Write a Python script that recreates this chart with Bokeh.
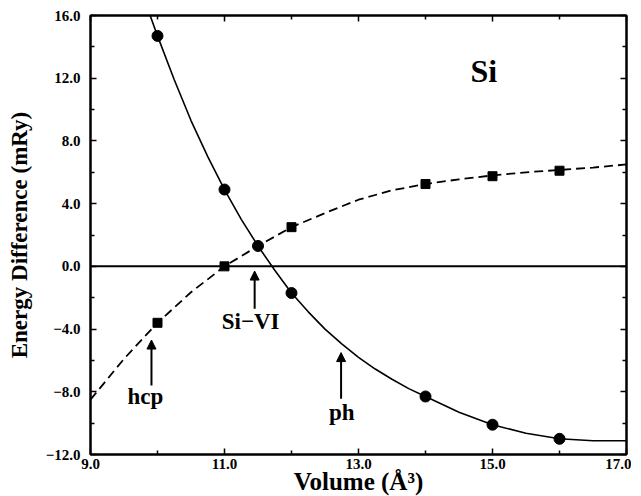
from bokeh.plotting import figure
from bokeh.models import FixedTicker, LinearAxis, Range1d, Span, Arrow, NormalHead, Label
from bokeh.embed import file_html
from bokeh.resources import INLINE

# ---- data ----
ph_volume = [10.0, 11.0, 11.5, 12.0, 14.0, 15.0, 16.0]
ph_energy = [14.7, 4.9, 1.3, -1.7, -8.3, -10.1, -11.0]
hcp_volume = [10.0, 11.0, 12.0, 14.0, 15.0, 16.0]
hcp_energy = [-3.6, 0.0, 2.5, 5.25, 5.75, 6.1]

ph_fit_volume = [9.89, 10.0, 10.25, 10.5, 10.75, 11.0, 11.25, 11.5, 11.75, 12.0,
                 12.25, 12.5, 12.75, 13.0, 13.25, 13.5, 13.75, 14.0, 14.5, 15.0,
                 15.5, 16.0, 16.5, 17.0]
ph_fit_energy = [16.0, 14.7, 11.9, 9.3, 7.0, 4.9, 3.0, 1.3, -0.25, -1.7,
                 -2.9, -4.0, -4.95, -5.8, -6.55, -7.2, -7.8, -8.3, -9.3, -10.1,
                 -10.65, -11.0, -11.12, -11.12]
hcp_fit_volume = [9.0, 9.5, 10.0, 10.5, 11.0, 11.5, 12.0, 12.5, 13.0, 13.5,
                  14.0, 14.5, 15.0, 15.5, 16.0, 16.5, 17.0]
hcp_fit_energy = [-8.5, -5.9, -3.6, -1.65, 0.0, 1.3, 2.5, 3.4, 4.25, 4.85,
                  5.25, 5.55, 5.8, 6.0, 6.15, 6.3, 6.5]

x_ticks = [9, 11, 13, 15, 17]
x_tick_labels = ["9.0", "11.0", "13.0", "15.0", "17.0"]
x_minor_ticks = [10, 12, 14, 16]
y_ticks = [-12, -8, -4, 0, 4, 8, 12, 16]
y_tick_labels = ["\u221212.0", "\u22128.0", "\u22124.0", "0.0", "4.0", "8.0", "12.0", "16.0"]
y_minor_ticks = [-10, -6, -2, 2, 6, 10, 14]

label_texts = ["hcp", "Si\u2212VI", "ph"]
label_x = [9.82, 11.39, 12.75]
label_y = [-8.3, -3.5, -9.33]
arrow_x = [9.91, 11.45, 12.74]
arrow_y_start = [-7.6, -2.7, -8.44]
arrow_y_end = [-4.7, -0.3, -5.5]

FONT = "Liberation Serif"

p = figure(frame_width=536, frame_height=439,
           x_range=Range1d(9, 17), y_range=Range1d(-12, 16),
           output_backend="svg", toolbar_location=None,
           min_border_left=90, min_border_top=15, min_border_right=5, min_border_bottom=0)
p.grid.visible = False
p.outline_line_color = "black"
p.outline_line_width = 2
p.background_fill_color = "white"
p.border_fill_color = "white"


def style_axis(ax, ticks, minor, labels, show_labels):
    ax.ticker = FixedTicker(ticks=ticks, minor_ticks=minor)
    ax.major_tick_in = 6
    ax.major_tick_out = 0
    ax.minor_tick_in = 4
    ax.minor_tick_out = 0
    ax.axis_line_width = 2
    ax.axis_line_color = "black"
    ax.major_tick_line_color = "black"
    ax.minor_tick_line_color = "black"
    ax.major_tick_line_width = 1.5
    ax.minor_tick_line_width = 1.5
    ax.major_label_text_font = FONT
    ax.major_label_text_font_style = "bold"
    ax.major_label_text_color = "black"
    ax.axis_label_text_color = "black"
    if show_labels:
        ax.major_label_overrides = {t: l for t, l in zip(ticks, labels)}
        ax.major_label_text_font_size = "15px"
    else:
        ax.major_label_overrides = {t: "" for t in ticks}
        ax.major_label_text_font_size = "1px"
        ax.major_label_standoff = 0


xa = p.xaxis[0]
style_axis(xa, x_ticks, x_minor_ticks, x_tick_labels, True)
xa.major_label_standoff = 4
xa.axis_label = "Volume (\u00c5\u00b3)"
xa.axis_label_text_font = FONT
xa.axis_label_text_font_style = "bold"
xa.axis_label_text_font_size = "25px"
xa.axis_label_standoff = -4

ya = p.yaxis[0]
style_axis(ya, y_ticks, y_minor_ticks, y_tick_labels, True)
ya.major_label_standoff = 10
ya.axis_label = "Energy Difference (mRy)"
ya.axis_label_text_font = FONT
ya.axis_label_text_font_style = "bold"
ya.axis_label_text_font_size = "23px"
ya.axis_label_standoff = 11

top = LinearAxis()
style_axis(top, x_ticks, x_minor_ticks, x_tick_labels, False)
p.add_layout(top, "above")
right = LinearAxis()
style_axis(right, y_ticks, y_minor_ticks, y_tick_labels, False)
p.add_layout(right, "right")

p.add_layout(Span(location=0, dimension="width", line_color="black", line_width=2))

p.line(hcp_fit_volume, hcp_fit_energy, line_color="black", line_width=1.8, line_dash="9 5")
p.line(ph_fit_volume, ph_fit_energy, line_color="black", line_width=1.6)
p.scatter(hcp_volume, hcp_energy, marker="square", size=9, color="black")
p.scatter(ph_volume, ph_energy, marker="circle", size=11, color="black")

for t, lx, ly in zip(label_texts, label_x, label_y):
    p.add_layout(Label(x=lx, y=ly, text=t, text_font=FONT, text_font_style="bold",
                       text_color="black",
                       text_font_size="23px", text_align="center", text_baseline="alphabetic"))

p.add_layout(Label(x=14.87, y=12.45, text="Si", text_font=FONT, text_font_style="bold",
                   text_color="black",
                   text_font_size="32px", text_align="center", text_baseline="alphabetic"))

for ax_, ys, ye in zip(arrow_x, arrow_y_start, arrow_y_end):
    p.add_layout(Arrow(end=NormalHead(size=9, fill_color="black", line_color="black"),
                       x_start=ax_, y_start=ys, x_end=ax_, y_end=ye,
                       line_color="black", line_width=2))

open("out.html", "w").write(file_html(p, INLINE))
